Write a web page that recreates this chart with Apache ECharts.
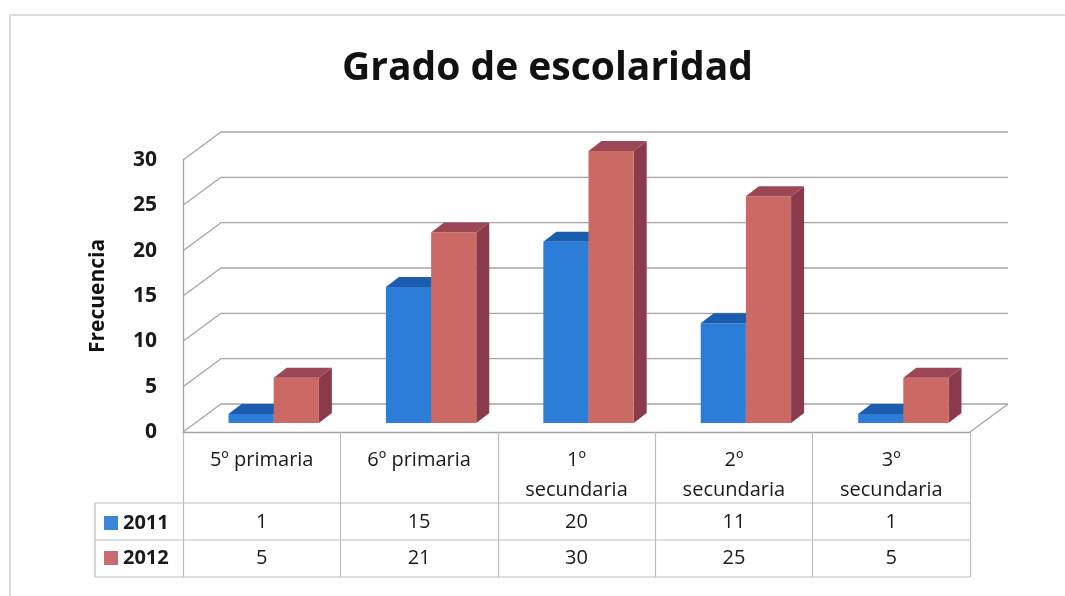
<!DOCTYPE html>
<html>
<head>
<meta charset="utf-8">
<script src="https://cdn.jsdelivr.net/npm/echarts@6/dist/echarts.min.js"></script>
<style>
  html, body { margin: 0; padding: 0; background: #fff; }
  #main { width: 1065px; height: 596px; }
</style>
</head>
<body>
<div id="main"></div>
<script>
var categorias = ['5º primaria', '6º primaria', '1º\nsecundaria', '2º\nsecundaria', '3º\nsecundaria'];
var anios = ['2011', '2012'];
var v2011 = [1, 15, 20, 11, 1];
var v2012 = [5, 21, 30, 25, 5];
var yTicks = [0, 5, 10, 15, 20, 25, 30];

var FONT = 'Open Sans';
// fondo 3D: desplazamiento de la pared del fondo, de la cara frontal de la barra y profundidad de la barra
var D = [38, -28], D1 = [12, -9], D2 = [13, -10];
var filaY = [522, 558];
var colores = [
  {front: '#2c7dd8', top: '#1b5cae', side: '#1a4f95', legend: '#3a86d8'},
  {front: '#cb6a64', top: '#9c4656', side: '#8a3a4b', legend: '#c96a70'}
];

function renderPared(params, api) {
  var cs = params.coordSys;
  var x0 = cs.x, x1 = cs.x + cs.width;
  var v = api.value(0);
  var y = api.coord([0, v])[1];
  var st = {stroke: '#a4a4a4', lineWidth: 1.3};
  var hijos = [
    {type: 'line', shape: {x1: x0, y1: y, x2: x0 + D[0], y2: y + D[1]}, style: st},
    {type: 'line', shape: {x1: x0 + D[0], y1: y + D[1], x2: x1 + D[0], y2: y + D[1]}, style: st}
  ];
  if (v === 0) {
    hijos.push({type: 'line', shape: {x1: x1, y1: y, x2: x1 + D[0], y2: y + D[1]}, style: st});
  }
  return {type: 'group', children: hijos};
}

function renderBarra(idx) {
  return function (params, api) {
    var i = api.value(0), v = api.value(1);
    var c = api.coord([i, v]);
    var b = api.coord([i, 0]);
    var bw = api.size([1, 0])[0] * 0.287;
    var xl = (idx === 0 ? c[0] - bw : c[0]) + D1[0];
    var top = c[1] + D1[1], bot = b[1] + D1[1];
    var col = colores[idx];
    return {
      type: 'group',
      children: [
        {type: 'polygon', shape: {points: [[xl + bw, top], [xl + bw + D2[0], top + D2[1]], [xl + bw + D2[0], bot + D2[1]], [xl + bw, bot]]}, style: {fill: col.side}},
        {type: 'rect', shape: {x: xl, y: top, width: bw, height: bot - top}, style: {fill: col.front}},
        {type: 'polygon', shape: {points: [[xl, top], [xl + bw, top], [xl + bw + D2[0], top + D2[1]], [xl + D2[0], top + D2[1]]]}, style: {fill: col.top}},
        {type: 'text', x: b[0], y: filaY[idx], style: {text: String(v), fontFamily: FONT, fontSize: 20, fill: '#1a1a1a', align: 'center', verticalAlign: 'middle'}}
      ]
    };
  };
}

var chart = echarts.init(document.getElementById('main'));
var option = {
  backgroundColor: '#fff',
  animation: false,
  title: {
    text: 'Grado de escolaridad',
    left: 337,
    top: 44,
    textStyle: {fontFamily: FONT, fontSize: 39, fontWeight: 'bold', color: '#111'}
  },
  legend: {
    data: anios,
    orient: 'vertical',
    left: 99,
    top: 507,
    itemWidth: 14,
    itemHeight: 14,
    itemGap: 13,
    icon: 'rect',
    textStyle: {fontFamily: FONT, fontSize: 20, lineHeight: 22, fontWeight: 'bold', color: '#1a1a1a'}
  },
  grid: {left: 183, right: 95, top: 160, bottom: 164},
  xAxis: {
    type: 'category',
    data: categorias,
    axisLine: {lineStyle: {color: '#a4a4a4', width: 1.3}},
    axisTick: {show: true, length: 145, lineStyle: {color: '#bdbdbd', width: 1.2}},
    axisLabel: {interval: 0, margin: 13, fontFamily: FONT, fontSize: 20, color: '#1a1a1a', lineHeight: 30, verticalAlign: 'top'}
  },
  yAxis: {
    type: 'value',
    min: 0,
    max: 30,
    interval: 5,
    name: 'Frecuencia',
    nameLocation: 'middle',
    nameGap: 74,
    nameRotate: 90,
    nameTextStyle: {fontFamily: FONT, fontSize: 21, fontWeight: 'bold', color: '#111'},
    axisLine: {show: true, lineStyle: {color: '#a4a4a4', width: 1.3}},
    axisTick: {show: false},
    splitLine: {show: false},
    axisLabel: {margin: 26, fontFamily: FONT, fontSize: 21, fontWeight: 'bold', color: '#1a1a1a'}
  },
  graphic: [
    {type: 'rect', shape: {x: 10, y: 15, width: 1100, height: 620}, style: {fill: 'none', stroke: '#dcdcdc', lineWidth: 2}, z: -1},
    {type: 'line', shape: {x1: 95, y1: 503, x2: 970, y2: 503}, style: {stroke: '#bdbdbd', lineWidth: 1.2}},
    {type: 'line', shape: {x1: 95, y1: 540, x2: 970, y2: 540}, style: {stroke: '#bdbdbd', lineWidth: 1.2}},
    {type: 'line', shape: {x1: 95, y1: 577, x2: 970, y2: 577}, style: {stroke: '#bdbdbd', lineWidth: 1.2}},
    {type: 'line', shape: {x1: 95, y1: 503, x2: 95, y2: 577}, style: {stroke: '#bdbdbd', lineWidth: 1.2}}
  ],
  series: [
    {
      name: 'pared',
      type: 'custom',
      z: 1,
      silent: true,
      renderItem: renderPared,
      data: yTicks.map(function (v) { return [v]; })
    },
    {
      name: anios[0],
      type: 'custom',
      z: 3,
      itemStyle: {color: colores[0].legend},
      renderItem: renderBarra(0),
      encode: {x: 0, y: 1},
      data: v2011.map(function (v, i) { return [i, v]; })
    },
    {
      name: anios[1],
      type: 'custom',
      z: 3,
      itemStyle: {color: colores[1].legend},
      renderItem: renderBarra(1),
      encode: {x: 0, y: 1},
      data: v2012.map(function (v, i) { return [i, v]; })
    }
  ]
};
chart.setOption(option);
</script>
</body>
</html>
